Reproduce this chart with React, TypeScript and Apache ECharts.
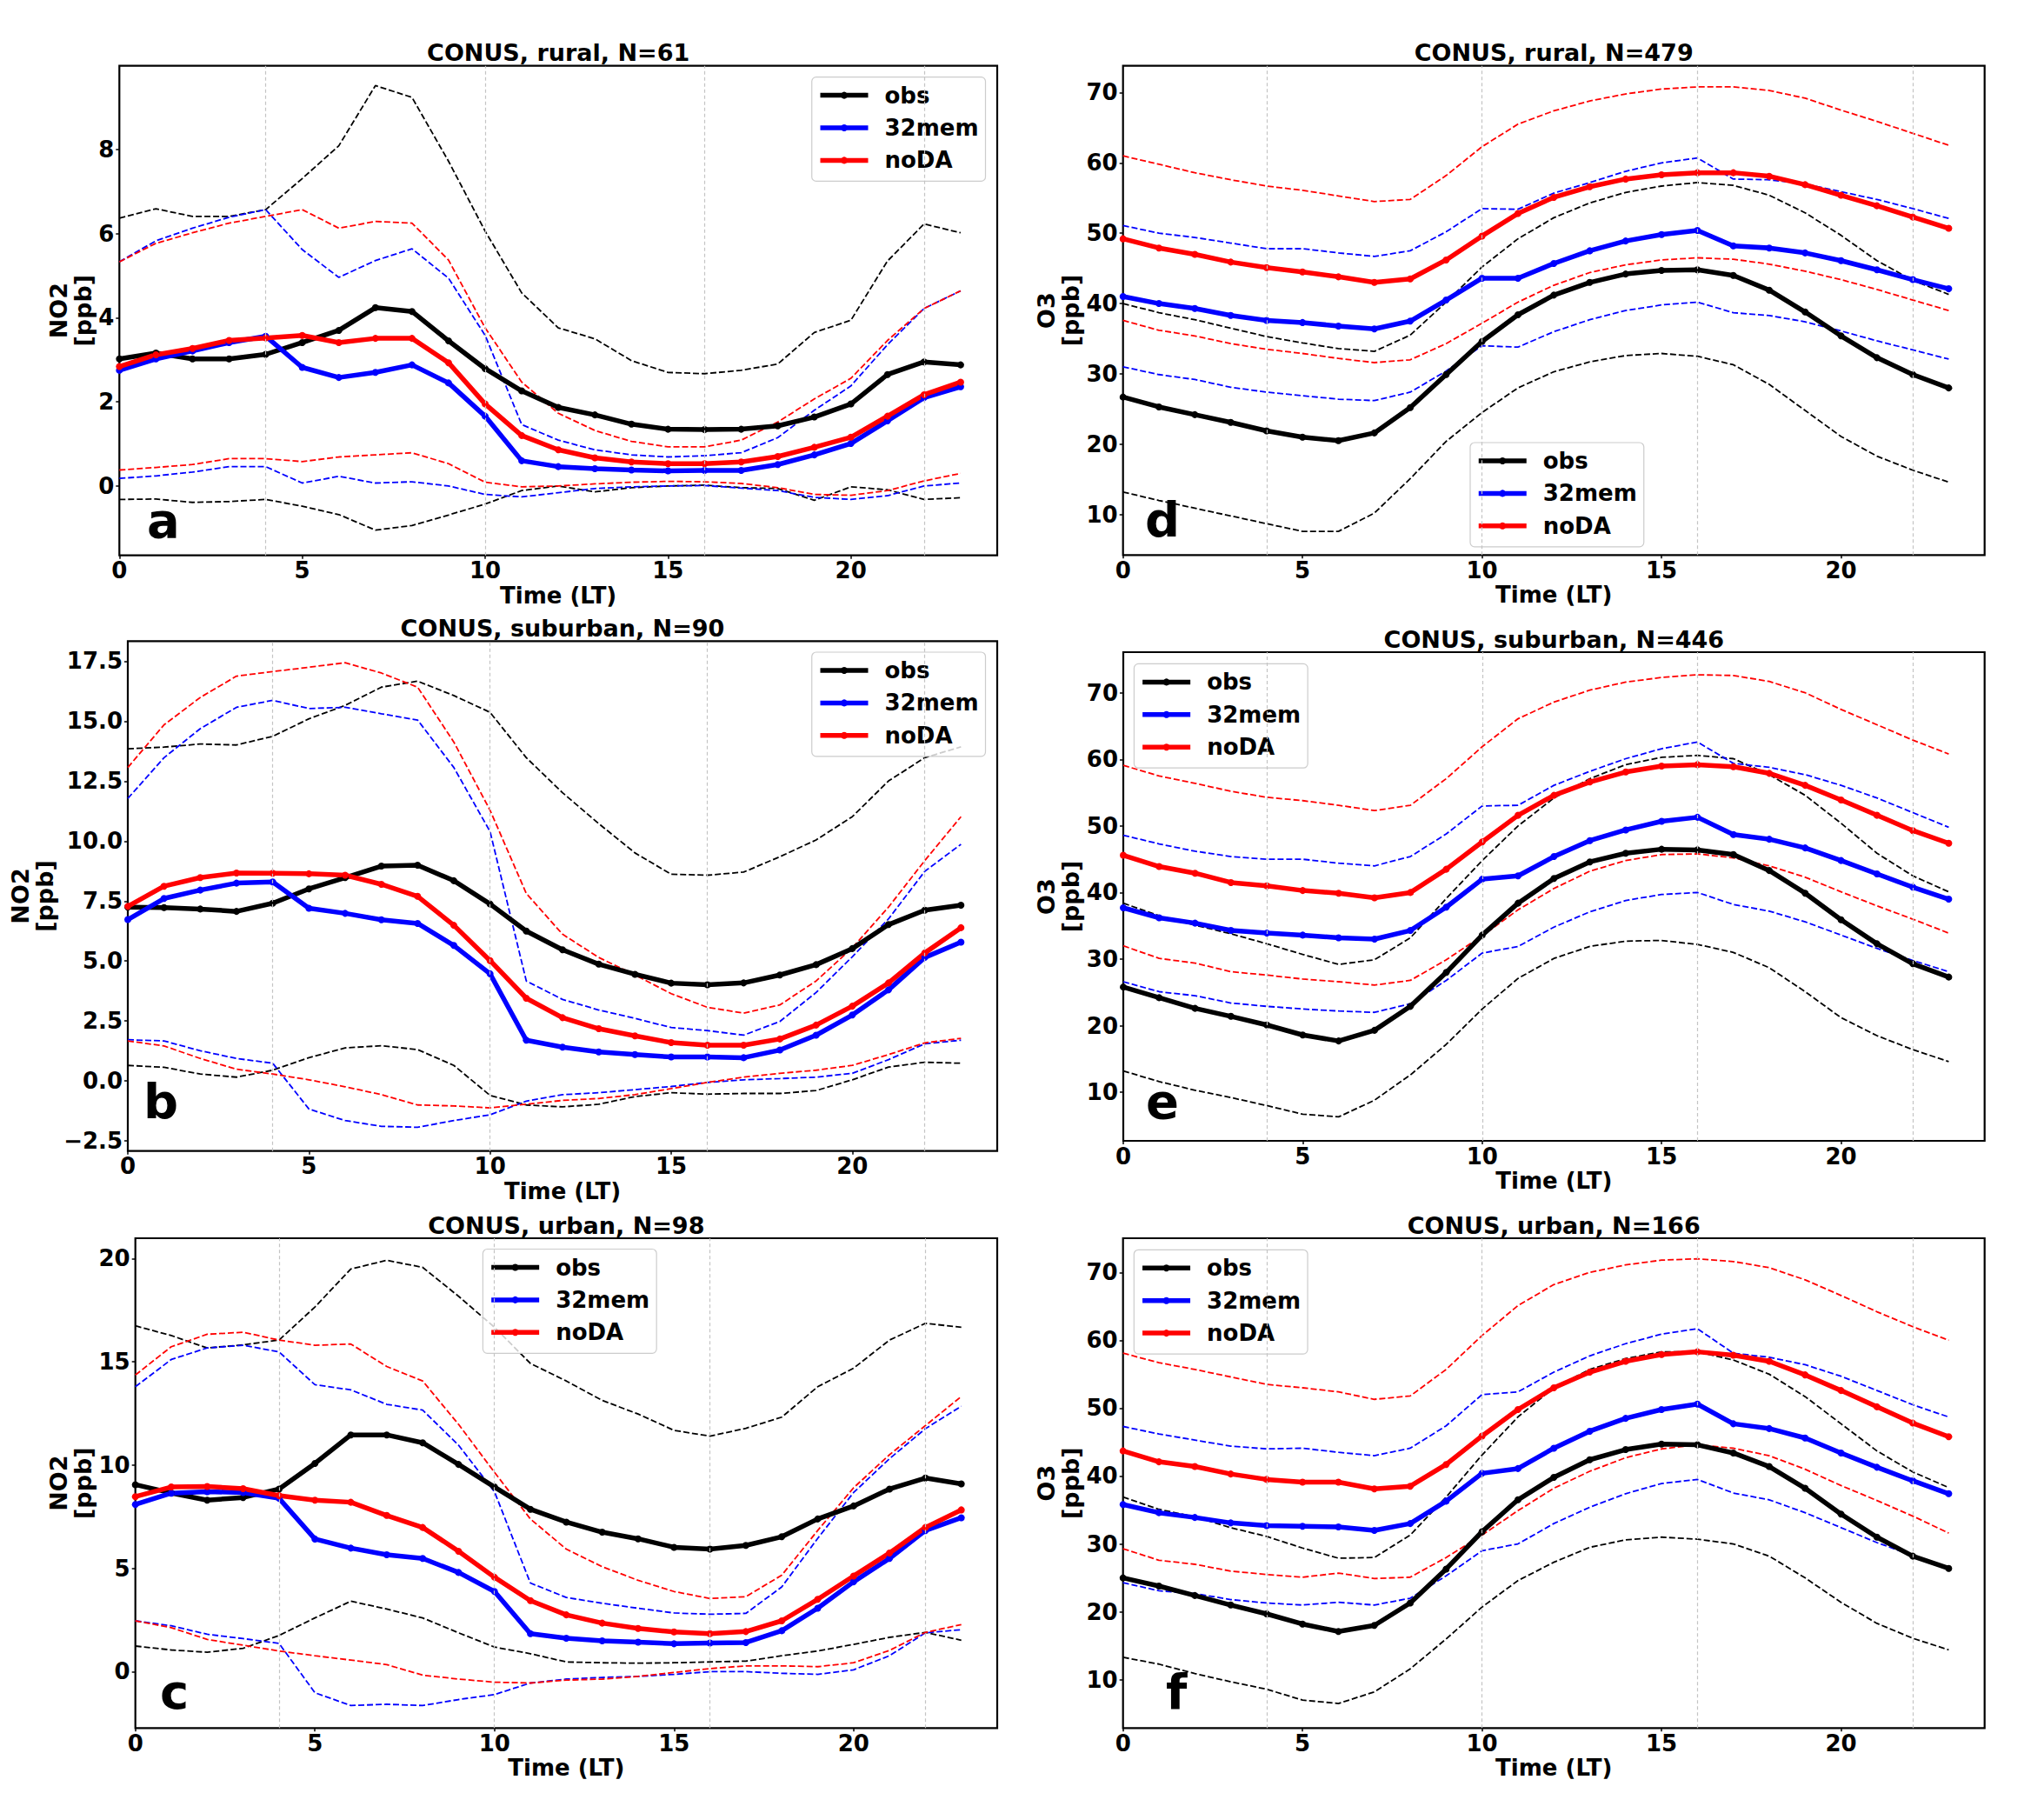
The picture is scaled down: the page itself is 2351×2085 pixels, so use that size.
import React, { useEffect, useRef } from 'react';
import * as echarts from 'echarts';

const FONT = '"DejaVu Sans", "Liberation Sans", sans-serif';

const hours = [0, 1, 2, 3, 4, 5, 6, 7, 8, 9, 10, 11, 12, 13, 14, 15, 16, 17, 18, 19, 20, 21, 22, 23];
const xTicks = [0, 5, 10, 15, 20];
const gridHours = [4, 10, 16, 22];
const yTicksA = [0, 2, 4, 6, 8];
const yTicksB = [-2.5, 0, 2.5, 5, 7.5, 10, 12.5, 15, 17.5];
const yTicksC = [0, 5, 10, 15, 20];
const yTicksO3 = [10, 20, 30, 40, 50, 60, 70];
const legendNames = ['obs', '32mem', 'noDA'];

// Panel a: NO2 rural
const aObs = [3.02, 3.16, 3.02, 3.02, 3.13, 3.41, 3.70, 4.24, 4.15, 3.45, 2.79, 2.26, 1.87, 1.69, 1.47, 1.35, 1.34, 1.35, 1.43, 1.64, 1.95, 2.65, 2.95, 2.88];
const aObsHi = [6.37, 6.59, 6.41, 6.41, 6.57, 7.31, 8.09, 9.52, 9.24, 7.72, 6.06, 4.59, 3.76, 3.50, 2.98, 2.70, 2.67, 2.75, 2.90, 3.65, 3.94, 5.35, 6.23, 6.02];
const aObsLo = [-0.32, -0.31, -0.39, -0.37, -0.32, -0.48, -0.68, -1.05, -0.94, -0.69, -0.43, -0.11, 0.00, -0.14, -0.04, 0.00, 0.02, -0.04, -0.06, -0.34, -0.02, -0.09, -0.32, -0.28];
const aMem = [2.75, 3.02, 3.21, 3.41, 3.56, 2.82, 2.58, 2.70, 2.88, 2.45, 1.66, 0.60, 0.46, 0.41, 0.38, 0.36, 0.37, 0.37, 0.51, 0.74, 1.01, 1.55, 2.10, 2.36];
const aMemHi = [5.33, 5.83, 6.13, 6.39, 6.57, 5.62, 4.96, 5.36, 5.64, 4.94, 3.58, 1.46, 1.09, 0.86, 0.74, 0.69, 0.72, 0.79, 1.15, 1.80, 2.38, 3.36, 4.22, 4.64];
const aMemLo = [0.18, 0.24, 0.33, 0.46, 0.46, 0.07, 0.23, 0.07, 0.10, 0.00, -0.20, -0.26, -0.16, -0.06, -0.02, 0.00, 0.01, -0.05, -0.11, -0.27, -0.32, -0.23, 0.00, 0.07];
const aNo = [2.84, 3.12, 3.27, 3.46, 3.52, 3.58, 3.41, 3.51, 3.51, 2.93, 1.95, 1.20, 0.86, 0.67, 0.57, 0.53, 0.53, 0.57, 0.70, 0.92, 1.16, 1.66, 2.17, 2.47];
const aNoHi = [5.33, 5.77, 6.02, 6.25, 6.41, 6.57, 6.13, 6.29, 6.25, 5.37, 3.76, 2.47, 1.73, 1.32, 1.06, 0.93, 0.93, 1.09, 1.52, 2.07, 2.56, 3.46, 4.22, 4.64];
const aNoLo = [0.38, 0.44, 0.51, 0.65, 0.65, 0.58, 0.69, 0.74, 0.79, 0.53, 0.09, -0.02, 0.00, 0.05, 0.09, 0.11, 0.10, 0.06, -0.04, -0.20, -0.22, -0.11, 0.12, 0.30];

// Panel b: NO2 suburban
const bObs = [7.25, 7.23, 7.17, 7.07, 7.41, 8.01, 8.48, 8.96, 9.00, 8.35, 7.38, 6.25, 5.47, 4.87, 4.45, 4.08, 4.01, 4.09, 4.42, 4.85, 5.52, 6.52, 7.12, 7.33];
const bObsHi = [13.85, 13.92, 14.05, 14.01, 14.37, 15.10, 15.66, 16.42, 16.67, 16.07, 15.37, 13.48, 12.02, 10.73, 9.51, 8.62, 8.58, 8.71, 9.35, 10.05, 11.02, 12.51, 13.48, 13.93];
const bObsLo = [0.65, 0.57, 0.29, 0.16, 0.45, 0.97, 1.38, 1.47, 1.31, 0.65, -0.60, -1.00, -1.08, -0.97, -0.65, -0.49, -0.55, -0.52, -0.52, -0.40, 0.05, 0.58, 0.78, 0.74];
const bMem = [6.73, 7.61, 7.96, 8.25, 8.30, 7.20, 6.99, 6.72, 6.57, 5.65, 4.47, 1.70, 1.41, 1.21, 1.10, 1.00, 1.00, 0.97, 1.29, 1.91, 2.75, 3.80, 5.15, 5.79];
const bMemHi = [11.78, 13.48, 14.69, 15.58, 15.87, 15.53, 15.58, 15.31, 15.05, 13.07, 10.40, 4.17, 3.40, 2.96, 2.61, 2.23, 2.10, 1.91, 2.48, 3.69, 5.18, 6.76, 8.74, 9.87];
const bMemLo = [1.72, 1.67, 1.26, 0.94, 0.74, -1.17, -1.65, -1.89, -1.93, -1.65, -1.41, -0.84, -0.57, -0.49, -0.36, -0.23, -0.06, 0.05, 0.10, 0.16, 0.32, 0.89, 1.55, 1.70];
const bNo = [7.28, 8.12, 8.48, 8.67, 8.66, 8.64, 8.58, 8.20, 7.70, 6.49, 5.02, 3.45, 2.64, 2.18, 1.88, 1.60, 1.49, 1.49, 1.75, 2.33, 3.12, 4.09, 5.34, 6.39];
const bNoHi = [13.07, 14.85, 15.99, 16.88, 17.07, 17.25, 17.44, 17.01, 16.42, 14.13, 11.29, 7.82, 6.12, 5.15, 4.42, 3.64, 3.07, 2.83, 3.17, 4.17, 5.55, 7.25, 9.19, 11.02];
const bNoLo = [1.67, 1.46, 0.94, 0.49, 0.29, 0.05, -0.24, -0.57, -1.00, -1.04, -1.12, -0.97, -0.81, -0.73, -0.57, -0.32, -0.06, 0.16, 0.32, 0.45, 0.65, 1.10, 1.59, 1.78];

// Panel c: NO2 urban
const cObs = [9.05, 8.65, 8.30, 8.43, 8.84, 10.08, 11.46, 11.46, 11.08, 10.03, 8.94, 7.86, 7.24, 6.75, 6.43, 6.02, 5.93, 6.11, 6.53, 7.39, 8.02, 8.84, 9.37, 9.09];
const cObsHi = [16.74, 16.27, 15.67, 15.82, 16.05, 17.65, 19.49, 19.91, 19.57, 18.17, 16.67, 14.92, 14.07, 13.13, 12.47, 11.68, 11.40, 11.78, 12.32, 13.79, 14.69, 16.05, 16.86, 16.67];
const cObsLo = [1.24, 1.05, 0.94, 1.13, 1.75, 2.60, 3.41, 3.03, 2.60, 1.88, 1.19, 0.87, 0.47, 0.43, 0.41, 0.43, 0.47, 0.51, 0.77, 1.00, 1.32, 1.66, 1.90, 1.52];
const cMem = [8.09, 8.64, 8.71, 8.67, 8.39, 6.42, 5.98, 5.66, 5.48, 4.80, 3.88, 1.84, 1.62, 1.49, 1.43, 1.35, 1.39, 1.41, 1.98, 3.07, 4.35, 5.48, 6.83, 7.45];
const cMemHi = [13.79, 15.11, 15.67, 15.80, 15.48, 13.89, 13.64, 12.94, 12.66, 10.96, 8.71, 4.29, 3.59, 3.31, 3.07, 2.84, 2.78, 2.82, 4.10, 6.45, 8.67, 10.31, 11.76, 12.85];
const cMemLo = [2.46, 2.22, 1.81, 1.60, 1.37, -1.02, -1.64, -1.58, -1.64, -1.35, -1.11, -0.55, -0.36, -0.28, -0.23, -0.13, 0.00, 0.00, -0.08, -0.13, 0.09, 0.77, 1.88, 2.03];
const cNo = [8.47, 8.94, 8.96, 8.86, 8.52, 8.30, 8.20, 7.56, 6.98, 5.83, 4.57, 3.44, 2.75, 2.35, 2.09, 1.92, 1.84, 1.94, 2.46, 3.50, 4.63, 5.74, 6.98, 7.83];
const cNoHi = [14.36, 15.73, 16.33, 16.43, 16.05, 15.80, 15.86, 14.77, 14.07, 11.97, 9.65, 7.39, 5.93, 5.08, 4.42, 3.88, 3.54, 3.63, 4.67, 6.83, 8.90, 10.50, 11.91, 13.32];
const cNoLo = [2.46, 2.13, 1.56, 1.28, 1.00, 0.77, 0.56, 0.34, -0.17, -0.36, -0.51, -0.55, -0.41, -0.36, -0.23, -0.04, 0.15, 0.28, 0.28, 0.24, 0.43, 1.03, 1.90, 2.28];

// Panel d: O3 rural
const dObs = [26.7, 25.3, 24.2, 23.1, 21.9, 21.0, 20.5, 21.6, 25.2, 29.9, 34.6, 38.4, 41.2, 43.0, 44.2, 44.7, 44.8, 44.0, 41.9, 38.8, 35.4, 32.3, 29.9, 28.0];
const dObsHi = [40.0, 38.7, 37.7, 36.5, 35.3, 34.4, 33.6, 33.2, 35.5, 40.2, 45.2, 49.2, 52.2, 54.3, 55.8, 56.7, 57.2, 56.8, 55.4, 52.9, 49.7, 46.1, 43.3, 41.3];
const dObsLo = [13.2, 12.0, 10.9, 9.8, 8.7, 7.6, 7.6, 10.2, 15.1, 20.4, 24.5, 28.0, 30.3, 31.7, 32.6, 32.9, 32.5, 31.3, 28.5, 24.8, 21.1, 18.3, 16.3, 14.6];
const dMem = [41.0, 40.0, 39.3, 38.3, 37.6, 37.3, 36.8, 36.4, 37.5, 40.5, 43.6, 43.6, 45.7, 47.5, 48.9, 49.8, 50.4, 48.2, 47.9, 47.2, 46.1, 44.8, 43.4, 42.1];
const dMemHi = [51.1, 50.0, 49.4, 48.6, 47.8, 47.8, 47.2, 46.7, 47.5, 50.2, 53.5, 53.4, 55.7, 57.2, 58.8, 60.0, 60.7, 57.7, 57.6, 57.0, 55.9, 54.8, 53.5, 52.1];
const dMemLo = [31.0, 29.9, 29.2, 28.1, 27.4, 26.9, 26.4, 26.2, 27.4, 30.4, 34.0, 33.8, 36.0, 37.7, 39.0, 39.8, 40.2, 38.7, 38.3, 37.4, 36.1, 34.7, 33.4, 32.1];
const dNo = [49.2, 47.9, 47.0, 45.9, 45.1, 44.5, 43.8, 43.0, 43.5, 46.2, 49.6, 52.8, 55.1, 56.6, 57.7, 58.3, 58.6, 58.6, 58.1, 56.9, 55.4, 53.9, 52.3, 50.7];
const dNoHi = [61.0, 59.8, 58.6, 57.6, 56.7, 56.1, 55.3, 54.5, 54.8, 58.2, 62.3, 65.5, 67.4, 68.8, 69.8, 70.5, 70.8, 70.8, 70.3, 69.2, 67.5, 65.9, 64.2, 62.5];
const dNoLo = [37.6, 36.2, 35.4, 34.3, 33.5, 32.9, 32.2, 31.6, 32.0, 34.3, 37.2, 40.2, 42.6, 44.4, 45.5, 46.2, 46.5, 46.3, 45.6, 44.6, 43.4, 42.0, 40.5, 39.0];

// Panel e: O3 suburban
const eObs = [25.8, 24.2, 22.6, 21.4, 20.1, 18.6, 17.7, 19.3, 22.9, 28.0, 33.6, 38.4, 42.1, 44.6, 45.9, 46.5, 46.4, 45.7, 43.3, 39.9, 35.9, 32.3, 29.3, 27.3];
const eObsHi = [38.4, 36.5, 35.1, 33.8, 32.3, 30.7, 29.2, 29.9, 33.2, 39.1, 44.8, 50.0, 54.2, 57.1, 59.2, 60.3, 60.6, 60.1, 57.7, 54.6, 50.4, 45.9, 42.5, 40.1];
const eObsLo = [13.2, 11.6, 10.3, 9.2, 8.0, 6.7, 6.3, 8.8, 12.6, 17.2, 22.5, 27.1, 30.1, 31.9, 32.7, 32.8, 32.2, 31.0, 28.7, 25.1, 21.2, 18.5, 16.4, 14.6];
const eMem = [37.7, 36.2, 35.4, 34.3, 33.9, 33.6, 33.2, 33.0, 34.3, 37.8, 42.0, 42.5, 45.4, 47.8, 49.4, 50.7, 51.3, 48.7, 48.0, 46.7, 44.8, 42.8, 40.8, 39.0];
const eMemHi = [48.6, 47.3, 46.2, 45.4, 45.0, 45.0, 44.4, 44.0, 45.4, 48.8, 53.0, 53.1, 56.1, 58.2, 60.1, 61.6, 62.6, 59.4, 58.8, 57.7, 56.1, 54.2, 52.0, 49.8];
const eMemLo = [26.6, 25.1, 24.5, 23.4, 22.9, 22.5, 22.2, 22.0, 23.3, 26.8, 30.9, 31.9, 34.8, 37.1, 38.8, 39.7, 40.0, 38.2, 37.2, 35.6, 33.6, 31.6, 29.8, 28.1];
const eNo = [45.6, 43.9, 42.9, 41.5, 41.0, 40.3, 39.9, 39.2, 40.0, 43.5, 47.6, 51.6, 54.6, 56.6, 58.1, 59.0, 59.2, 58.9, 57.9, 56.1, 53.9, 51.6, 49.3, 47.4];
const eNoHi = [59.1, 57.5, 56.4, 55.2, 54.3, 53.8, 53.1, 52.3, 53.1, 57.1, 61.9, 66.1, 68.6, 70.4, 71.6, 72.3, 72.7, 72.6, 71.7, 70.0, 67.5, 65.2, 62.9, 60.8];
const eNoLo = [32.0, 30.1, 29.4, 28.1, 27.6, 27.0, 26.6, 26.1, 26.8, 29.9, 33.5, 37.4, 40.6, 43.2, 44.8, 45.7, 45.8, 45.2, 44.0, 42.3, 40.1, 38.0, 36.0, 33.9];

// Panel f: O3 urban
const fObs = [25.0, 23.8, 22.4, 21.0, 19.7, 18.2, 17.1, 18.0, 21.3, 26.3, 31.8, 36.5, 39.8, 42.4, 43.9, 44.7, 44.6, 43.4, 41.4, 38.2, 34.4, 31.0, 28.2, 26.4];
const fObsHi = [36.9, 35.1, 34.0, 32.4, 31.1, 29.4, 27.9, 28.0, 31.3, 36.9, 43.1, 48.7, 53.0, 55.7, 57.3, 58.3, 58.3, 57.1, 55.0, 51.7, 47.7, 43.7, 40.6, 38.3];
const fObsLo = [13.3, 12.3, 10.9, 9.7, 8.6, 7.0, 6.5, 8.2, 11.6, 16.0, 20.7, 24.6, 27.3, 29.5, 30.6, 31.0, 30.7, 30.0, 28.2, 25.0, 21.4, 18.3, 16.1, 14.4];
const fMem = [35.8, 34.6, 33.9, 33.1, 32.7, 32.6, 32.5, 32.0, 33.0, 36.3, 40.4, 41.1, 44.1, 46.6, 48.5, 49.8, 50.6, 47.7, 47.0, 45.6, 43.4, 41.3, 39.3, 37.4];
const fMemHi = [47.3, 46.2, 45.3, 44.4, 44.0, 44.1, 43.5, 43.0, 44.1, 47.4, 52.0, 52.4, 55.3, 57.7, 59.5, 60.9, 61.7, 58.1, 57.5, 56.4, 54.7, 52.6, 50.5, 48.7];
const fMemLo = [24.3, 23.1, 22.7, 21.8, 21.3, 21.0, 21.4, 21.0, 22.0, 25.3, 29.0, 30.0, 33.0, 35.4, 37.4, 38.9, 39.5, 37.5, 36.5, 34.6, 32.4, 30.2, 28.3, 26.3];
const fNo = [43.7, 42.1, 41.4, 40.3, 39.5, 39.1, 39.1, 38.1, 38.5, 41.7, 45.9, 49.8, 53.0, 55.3, 56.9, 57.9, 58.3, 57.8, 56.9, 54.9, 52.6, 50.2, 47.8, 45.8];
const fNoHi = [58.1, 56.7, 55.7, 54.6, 53.5, 53.0, 52.4, 51.3, 51.8, 55.7, 60.7, 65.1, 68.2, 70.0, 71.1, 71.8, 72.0, 71.6, 70.7, 68.9, 66.6, 64.2, 62.0, 60.0];
const fNoLo = [29.3, 27.6, 27.0, 26.0, 25.5, 25.1, 25.7, 24.9, 25.1, 28.0, 31.3, 34.9, 38.2, 40.7, 42.7, 44.0, 44.6, 44.1, 43.0, 41.0, 38.6, 36.4, 34.1, 31.6];

type Panel = {
  letter: string;
  title: string;
  yName: string;
  grid: [number, number, number, number];
  ylim: [number, number];
  yTicks: number[];
  decimals: number;
  nameGap: number;
  legendPos: any;
  letterPos: [number, number];
  obs: number[][];
  mem: number[][];
  no: number[][];
};

const panels: Panel[] = [
  {
    letter: 'a', title: 'CONUS, rural, N=61', yName: 'NO2\n[ppb]',
    grid: [137.3, 75.7, 1009.7, 563.0], ylim: [-1.65, 9.99], yTicks: yTicksA, decimals: 0, nameGap: 27,
    legendPos: { right: 1217.5, top: 88.6 }, letterPos: [169, 626.6],
    obs: [aObs, aObsLo, aObsHi], mem: [aMem, aMemLo, aMemHi], no: [aNo, aNoLo, aNoHi],
  },
  {
    letter: 'b', title: 'CONUS, suburban, N=90', yName: 'NO2\n[ppb]',
    grid: [147, 737.3, 1000, 586.4], ylim: [-2.92, 18.34], yTicks: yTicksB, decimals: 1, nameGap: 82,
    legendPos: { right: 1217.5, top: 750 }, letterPos: [165, 1294.6],
    obs: [bObs, bObsLo, bObsHi], mem: [bMem, bMemLo, bMemHi], no: [bNo, bNoLo, bNoHi],
  },
  {
    letter: 'c', title: 'CONUS, urban, N=98', yName: 'NO2\n[ppb]',
    grid: [155.7, 1424, 991.3, 563.3], ylim: [-2.73, 20.98], yTicks: yTicksC, decimals: 0, nameGap: 46,
    legendPos: { left: 555.4, top: 1436.5 }, letterPos: [184, 1973.5],
    obs: [cObs, cObsLo, cObsHi], mem: [cMem, cMemLo, cMemHi], no: [cNo, cNoLo, cNoHi],
  },
  {
    letter: 'd', title: 'CONUS, rural, N=479', yName: 'O3\n[ppb]',
    grid: [1291.7, 75.7, 991.0, 562.6], ylim: [4.24, 73.8], yTicks: yTicksO3, decimals: 0, nameGap: 44,
    legendPos: { left: 1691, top: 509 }, letterPos: [1317, 625.6],
    obs: [dObs, dObsLo, dObsHi], mem: [dMem, dMemLo, dMemHi], no: [dNo, dNoLo, dNoHi],
  },
  {
    letter: 'e', title: 'CONUS, suburban, N=446', yName: 'O3\n[ppb]',
    grid: [1292, 750, 990.7, 562], ylim: [2.7, 76.1], yTicks: yTicksO3, decimals: 0, nameGap: 44,
    legendPos: { left: 1304.4, top: 763.4 }, letterPos: [1318, 1294.6],
    obs: [eObs, eObsLo, eObsHi], mem: [eMem, eMemLo, eMemHi], no: [eNo, eNoLo, eNoHi],
  },
  {
    letter: 'f', title: 'CONUS, urban, N=166', yName: 'O3\n[ppb]',
    grid: [1291.7, 1424, 991, 563.3], ylim: [2.88, 75.03], yTicks: yTicksO3, decimals: 0, nameGap: 44,
    legendPos: { left: 1304.3, top: 1437.3 }, letterPos: [1341, 1973.1],
    obs: [fObs, fObsLo, fObsHi], mem: [fMem, fMemLo, fMemHi], no: [fNo, fNoLo, fNoHi],
  },
];

const COLORS: Record<string, string> = { obs: '#000000', '32mem': '#0000ff', noDA: '#ff0000' };

function buildOption() {
  const grid: any[] = [];
  const xAxis: any[] = [];
  const yAxis: any[] = [];
  const series: any[] = [];
  const title: any[] = [];
  const legend: any[] = [];
  const graphic: any[] = [];

  panels.forEach((p, i) => {
    const [l, t, w, h] = p.grid;
    grid.push({ left: l, top: t, width: w, height: h, show: true, borderColor: '#000', borderWidth: 2.2, backgroundColor: '#fff', containLabel: false });
    xAxis.push({
      type: 'value', gridIndex: i, min: 0, max: 24, position: 'bottom',
      name: 'Time (LT)', nameLocation: 'middle', nameGap: 33,
      nameTextStyle: { fontFamily: FONT, fontWeight: 'bold', fontSize: 26, color: '#000' },
      axisLine: { show: false, onZero: false },
      axisTick: { show: true, customValues: xTicks, length: 4, lineStyle: { color: '#000', width: 1.5 } },
      axisLabel: { customValues: xTicks, margin: 4.5, fontFamily: FONT, fontWeight: 'bold', fontSize: 26, color: '#000' },
      splitLine: { show: false },
    });
    yAxis.push({
      type: 'value', gridIndex: i, min: p.ylim[0], max: p.ylim[1], position: 'left',
      name: p.yName, nameLocation: 'middle', nameRotate: 90, nameGap: p.nameGap,
      nameTextStyle: { fontFamily: FONT, fontWeight: 'bold', fontSize: 27, color: '#000', lineHeight: 28 },
      axisLine: { show: false, onZero: false },
      axisTick: { show: true, customValues: p.yTicks, length: 4, lineStyle: { color: '#000', width: 1.5 } },
      axisLabel: {
        customValues: p.yTicks, margin: 6, fontFamily: FONT, fontWeight: 'bold', fontSize: 26, color: '#000',
        formatter: (v: number) => (p.decimals ? v.toFixed(p.decimals) : String(Math.round(v))).replace('-', '\u2212'),
      },
      splitLine: { show: false },
    });
    title.push({
      text: p.title, left: l + w / 2, top: t - 1.5, textAlign: 'center', textVerticalAlign: 'bottom', padding: 0,
      textStyle: { fontFamily: FONT, fontWeight: 'bold', fontSize: 27, color: '#000' },
    });
    legend.push({
      ...p.legendPos,
      data: legendNames, orient: 'vertical', selectedMode: false,
      itemWidth: 55, itemHeight: 10, itemGap: 7.4,
      padding: [6, 8, 9, 7],
      backgroundColor: 'rgba(255,255,255,0.8)', borderColor: '#cccccc', borderWidth: 1.2, borderRadius: 5,
      lineStyle: { width: 5.5 },
      textStyle: { fontFamily: FONT, fontWeight: 'bold', fontSize: 26, color: '#000', lineHeight: 30, padding: [0, 0, 0, 14] },
    });
    graphic.push({
      type: 'text', x: p.letterPos[0], y: p.letterPos[1], z: 100,
      style: { text: p.letter, fontFamily: FONT, fontWeight: 'bold', fontSize: 56, fill: '#000', align: 'left', verticalAlign: 'bottom' },
    });

    const groups = [
      { name: 'obs', d: p.obs },
      { name: '32mem', d: p.mem },
      { name: 'noDA', d: p.no },
    ];
    groups.forEach((g, gi) => {
      [g.d[1], g.d[2]].forEach((arr, j) => {
        const s: any = {
          type: 'line', name: g.name + (j === 0 ? ' low' : ' high'), xAxisIndex: i, yAxisIndex: i,
          data: hours.map((hr, k) => [hr, arr[k]]), symbol: 'none', silent: true, z: 2,
          lineStyle: { color: COLORS[g.name], width: 1.8, type: [7, 3] },
        };
        if (gi === 0 && j === 0) {
          s.markLine = {
            silent: true, symbol: ['none', 'none'], label: { show: false },
            lineStyle: { color: '#c4c4c4', width: 1.2, type: [4, 3] },
            data: gridHours.map((gh) => ({ xAxis: gh })),
          };
        }
        series.push(s);
      });
    });
    groups.forEach((g) => {
      series.push({
        type: 'line', name: g.name, xAxisIndex: i, yAxisIndex: i,
        data: hours.map((hr, k) => [hr, g.d[0][k]]),
        symbol: 'circle', symbolSize: 8, showSymbol: true, showAllSymbol: true, z: 3,
        lineStyle: { color: COLORS[g.name], width: 5.5 },
        itemStyle: { color: COLORS[g.name] },
      });
    });
  });

  return { animation: false, backgroundColor: '#ffffff', grid, xAxis, yAxis, series, title, legend, graphic };
}

export default function App() {
  const ref = useRef<HTMLDivElement | null>(null);
  useEffect(() => {
    if (!ref.current) return;
    const chart = echarts.init(ref.current, undefined, { renderer: 'svg' });
    chart.setOption(buildOption() as any);
    return () => chart.dispose();
  }, []);
  return (
    <div
      ref={ref}
      style={{ position: 'absolute', left: 0, top: 0, width: 2351, height: 2085, background: '#fff' }}
    />
  );
}
